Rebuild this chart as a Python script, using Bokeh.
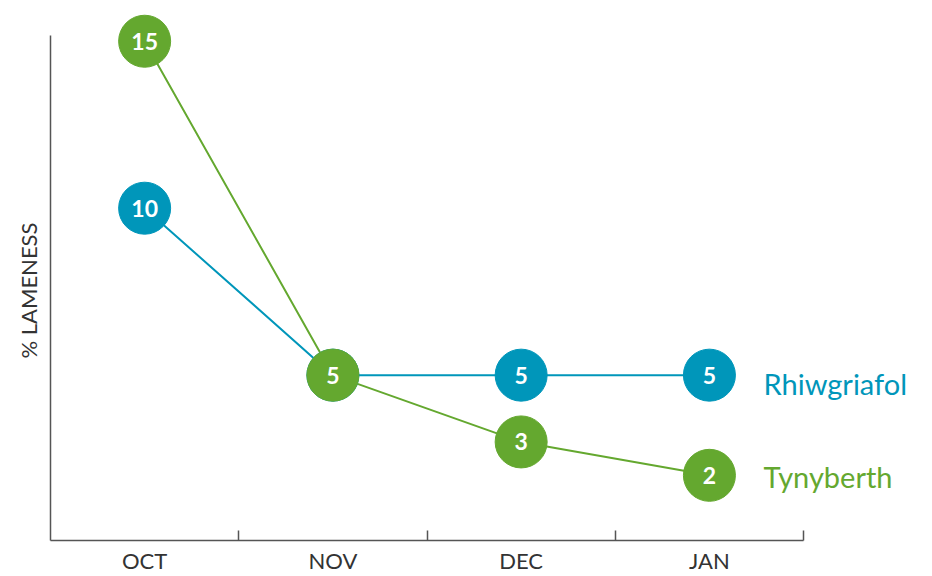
import numpy as np
from bokeh.plotting import figure
from bokeh.models import FixedTicker, Range1d, ColumnDataSource, Title
from bokeh.core.properties import value
from bokeh.embed import file_html
from bokeh.resources import INLINE

# ---- data ----
months = ["OCT", "NOV", "DEC", "JAN"]
rhiwgriafol = [10, 5, 5, 5]
tynyberth = [15, 5, 3, 2]
series_names = ["Rhiwgriafol", "Tynyberth"]
y_label = "% LAMENESS"

BLUE = "#0096BA"
GREEN = "#64A82F"
AXIS = "#555555"
TEXT = "#333333"

xc = np.arange(len(months)) + 0.5

p = figure(width=932, height=576, output_backend="svg", toolbar_location=None,
           x_range=Range1d(0, 4.685), y_range=Range1d(0.048, 16.22),
           min_border_left=50, min_border_right=0, min_border_top=0, min_border_bottom=33)
p.outline_line_color = None
p.grid.visible = False

# x axis
xa = p.xaxis[0]
xa.ticker = FixedTicker(ticks=list(xc), minor_ticks=list(range(1, len(months) + 1)))
xa.major_label_overrides = {float(x): m for x, m in zip(xc, months)}
xa.bounds = (0, len(months))
xa.axis_line_color = AXIS
xa.axis_line_width = 1.5
xa.major_tick_in = 0
xa.major_tick_out = 0
xa.minor_tick_in = 10
xa.minor_tick_out = 0
xa.minor_tick_line_color = AXIS
xa.minor_tick_line_width = 1.5
xa.major_label_standoff = 6
xa.major_label_text_font = "Lato"
xa.major_label_text_font_size = "22px"
xa.major_label_text_color = TEXT

# y axis (line only, up to the top of the data area)
ya = p.yaxis[0]
ya.ticker = FixedTicker(ticks=[])
ya.bounds = (0, 15.18)
ya.axis_line_color = AXIS
ya.axis_line_width = 1.5
ya.major_tick_in = 0
ya.major_tick_out = 0
ya.minor_tick_in = 0
ya.minor_tick_out = 0
ya.major_label_text_font_size = "0px"
ya.major_label_standoff = 0

# y axis label, positioned along the axis line
p.add_layout(Title(text=y_label, align="left", offset=182, standoff=18,
                   text_font="Lato", text_font_style="normal", text_font_size="22px",
                   text_color=TEXT), "left")

src_r = ColumnDataSource(dict(x=xc, y=rhiwgriafol, t=[str(v) for v in rhiwgriafol]))
src_t = ColumnDataSource(dict(x=xc, y=tynyberth, t=[str(v) for v in tynyberth]))

p.line("x", "y", source=src_r, line_color=BLUE, line_width=2)
p.line("x", "y", source=src_t, line_color=GREEN, line_width=2)

for src, col in ((src_r, BLUE), (src_t, GREEN)):
    p.scatter("x", "y", source=src, size=52, fill_color=col, line_color=col)
    p.text("x", "y", text="t", source=src, text_color="white", text_align="center",
           text_baseline="middle", text_font=value("Lato"), text_font_style="bold",
           text_font_size="23px")

# series labels at the end of each line
lx = len(months) - 0.2125
p.text([lx], [rhiwgriafol[-1]], text=[series_names[0]], text_color=BLUE,
       text_align="left", text_baseline="middle", y_offset=8,
       text_font=value("Lato"), text_font_size="29px")
p.text([lx], [tynyberth[-1]], text=[series_names[1]], text_color=GREEN,
       text_align="left", text_baseline="middle", y_offset=1,
       text_font=value("Lato"), text_font_size="29px")

open("out.html", "w").write(file_html(p, INLINE))
